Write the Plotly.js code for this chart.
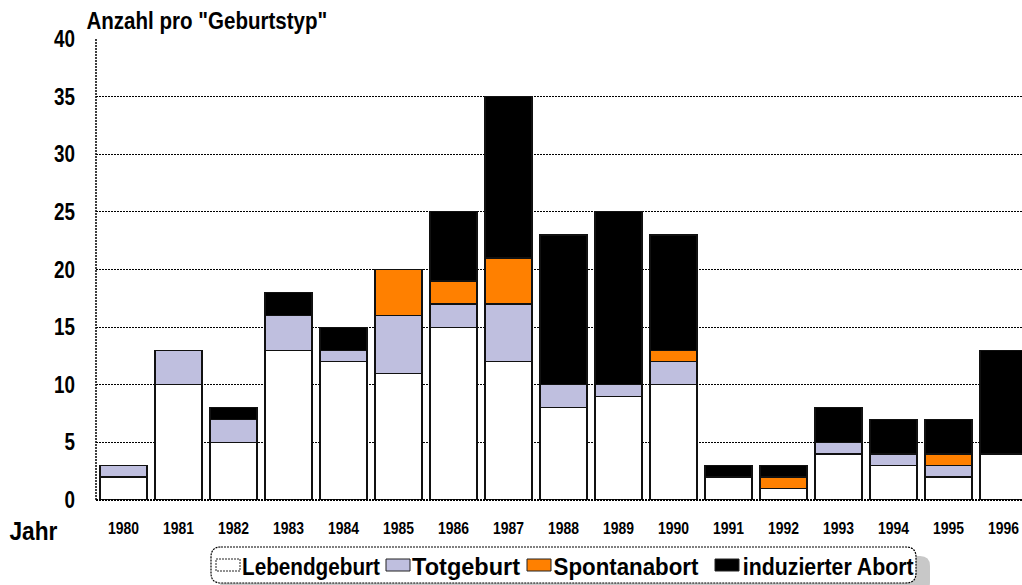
<!DOCTYPE html>
<html>
<head>
<meta charset="utf-8">
<script src="https://cdn.plot.ly/plotly-3.0.1.min.js"></script>
<style>html,body{margin:0;padding:0;background:#fff;}#chart{width:1022px;height:585px;}</style>
</head>
<body>
<div id="chart"></div>
<script>
const years = ["1980","1981","1982","1983","1984","1985","1986","1987","1988","1989","1990","1991","1992","1993","1994","1995","1996"];
const lebendgeburt = [2,10,5,13,12,11,15,12,8,9,10,2,1,4,3,2,4];
const totgeburt    = [1,3,2,3,1,5,2,5,2,1,2,0,0,1,1,1,0];
const spontanabort = [0,0,0,0,0,4,2,4,0,0,1,0,1,0,0,1,0];
const induziert    = [0,0,1,2,2,0,6,14,13,15,10,1,1,3,3,3,9];
const seriesNames = ["Lebendgeburt","Totgeburt","Spontanabort","induzierter Abort"];
const yTicks = [0,5,10,15,20,25,30,35,40];
const chartTitle = 'Anzahl pro "Geburtstyp"';
const xLabel = 'Jahr';

const FONT = '"Liberation Sans", Arial, sans-serif';
const colors = ["#FFFFFF","#BFBFDF","#FF8000","#000000"];
const dataSets = [lebendgeburt, totgeburt, spontanabort, induziert];

const traces = dataSets.map((vals, i) => ({
  type: 'bar',
  name: seriesNames[i],
  x: years,
  y: vals,
  marker: {color: colors[i], line: {color: '#111', width: 1.2}},
  showlegend: false
}));

// plot area in pixels
const L = 96, R = 1022, T = 39, B = 500;
const px = v => (v - L) / (R - L);
const py = v => (B - v) / (B - T);

function roundRect(x0, y0, x1, y1, r) {
  const X = px, Y = py;
  return `M ${X(x0 + r)} ${Y(y0)} L ${X(x1 - r)} ${Y(y0)} Q ${X(x1)} ${Y(y0)} ${X(x1)} ${Y(y0 + r)} ` +
         `L ${X(x1)} ${Y(y1 - r)} Q ${X(x1)} ${Y(y1)} ${X(x1 - r)} ${Y(y1)} ` +
         `L ${X(x0 + r)} ${Y(y1)} Q ${X(x0)} ${Y(y1)} ${X(x0)} ${Y(y1 - r)} ` +
         `L ${X(x0)} ${Y(y0 + r)} Q ${X(x0)} ${Y(y0)} ${X(x0 + r)} ${Y(y0)} Z`;
}

// legend layout (pixel positions): square left, text center
const legendSquares = [216, 386, 527, 715];
const legendTextCenters = [311, 466, 625.5, 827.5];
const legendY = 565;

const shapes = [
  {type: 'path', xref: 'paper', yref: 'paper', path: roundRect(220, 556, 930, 592, 10),
   fillcolor: '#C8C8C8', line: {width: 0}, layer: 'below'},
  {type: 'path', xref: 'paper', yref: 'paper', path: roundRect(211, 547, 916, 583, 10),
   fillcolor: '#FFFFFF', line: {color: '#000', width: 1.2, dash: '2px,1px'}, layer: 'below'},
  {type: 'line', xref: 'paper', yref: 'paper', x0: 0, x1: 0, y0: 0, y1: 1,
   line: {color: '#000', width: 1.5, dash: '2px,1px'}},
  {type: 'line', xref: 'paper', yref: 'paper', x0: 0, x1: 1, y0: 0, y1: 0,
   line: {color: '#000', width: 2, dash: '2px,1px'}}
];
legendSquares.forEach((x0, i) => {
  shapes.push({type: 'rect', xref: 'paper', yref: 'paper',
    x0: px(x0), x1: px(x0 + 24), y0: py(legendY - 6), y1: py(legendY + 6),
    fillcolor: colors[i], line: {color: '#222', width: 1, dash: i === 0 ? '2px,1px' : 'solid'}});
});

const annotations = [
  {text: chartTitle, xref: 'paper', yref: 'paper', x: px(206.5), y: py(21),
   xanchor: 'center', yanchor: 'middle', showarrow: false,
   font: {family: FONT, size: 23, color: '#000', weight: 'bold'}},
  {text: xLabel, xref: 'paper', yref: 'paper', x: px(34), y: py(531),
   xanchor: 'center', yanchor: 'middle', showarrow: false,
   font: {family: FONT, size: 26, color: '#000', weight: 'bold'}}
];
seriesNames.forEach((n, i) => {
  annotations.push({text: n, xref: 'paper', yref: 'paper', x: px(legendTextCenters[i]), y: py(legendY + 1),
    xanchor: 'center', yanchor: 'middle', showarrow: false,
    font: {family: FONT, size: 24, color: '#000', weight: 'bold'}});
});

const layout = {
  width: 1022, height: 585,
  margin: {l: L, r: 0, t: T, b: 585 - B},
  paper_bgcolor: '#fff', plot_bgcolor: '#fff',
  barmode: 'stack',
  bargap: 0.145,
  showlegend: false,
  font: {family: FONT, color: '#000'},
  xaxis: {
    type: 'category',
    range: [-0.5, -0.5 + (R - L) / 55],
    showgrid: false, showline: false, zeroline: false, ticks: '',
    tickfont: {family: FONT, size: 17, color: '#000', weight: 'bold'},
    ticklabelstandoff: 16
  },
  yaxis: {
    range: [0, 40],
    tickvals: yTicks,
    ticktext: yTicks.map(String),
    showgrid: true, gridcolor: '#000', griddash: '2px,1px', gridwidth: 1,
    zeroline: false, showline: false, ticks: '',
    tickfont: {family: FONT, size: 23, color: '#000', weight: 'bold'},
    ticklabelstandoff: 20
  },
  shapes: shapes,
  annotations: annotations
};

// target pixel widths of texts in the reference (condensed face)
const targetWidths = {};
targetWidths[chartTitle] = 241;
targetWidths[xLabel] = 48;
targetWidths['Lebendgeburt'] = 138;
targetWidths['Totgeburt'] = 108;
targetWidths['Spontanabort'] = 145;
targetWidths['induzierter Abort'] = 171;

function condense() {
  document.querySelectorAll('#chart svg text').forEach(el => {
    const content = el.textContent;
    if (!content) return;
    let bb;
    try { bb = el.getBBox(); } catch (e) { return; }
    if (!bb || bb.width === 0) return;
    const s = targetWidths[content] ? targetWidths[content] / bb.width : 0.82;
    const anchor = el.getAttribute('text-anchor') || 'start';
    let ox = bb.x + bb.width / 2;
    if (anchor === 'start') ox = bb.x;
    if (anchor === 'end') ox = bb.x + bb.width;
    const prev = el.getAttribute('transform') || '';
    el.setAttribute('transform', `${prev} translate(${ox},0) scale(${s},1) translate(${-ox},0)`);
  });
}

Plotly.newPlot('chart', traces, layout, {displayModeBar: false, staticPlot: true}).then(condense);
</script>
</body>
</html>
